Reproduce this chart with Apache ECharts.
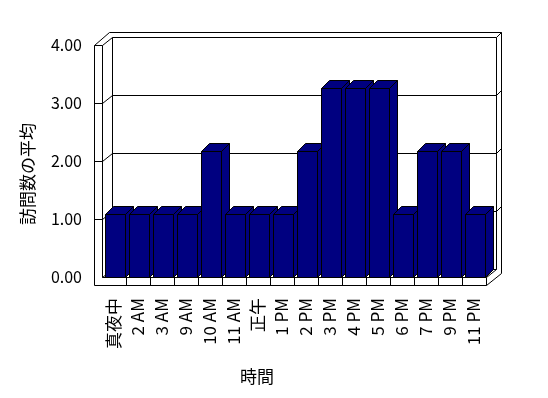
<!DOCTYPE html>
<html>
<head>
<meta charset="utf-8">
<script src="https://cdn.jsdelivr.net/npm/echarts@6/dist/echarts.min.js"></script>
<style>
html,body{margin:0;padding:0;background:#fff;}
#c{width:548px;height:398px;}
</style>
</head>
<body>
<div id="c"></div>
<script>
const categories = ['真夜中','2 AM','3 AM','9 AM','10 AM','11 AM','正午','1 PM','2 PM','3 PM','4 PM','5 PM','6 PM','7 PM','9 PM','11 PM'];
const visits = [1.09,1.09,1.09,1.09,2.17,1.09,1.09,1.09,2.17,3.26,3.26,3.26,1.09,2.17,2.17,1.09];
const yTickValues = [1,2,3];
const yName = '訪問数の平均';
const xName = '時間';

const FONT = '"Noto Sans CJK JP", "Liberation Sans", sans-serif';
const BAR = '#000080';
const N = categories.length;
const c = v => Math.round(v) + 0.5;
const line = pts => ({type:'polyline', shape:{points: pts.map(p=>[c(p[0]), c(p[1])])}, style:{stroke:'#000', lineWidth:1, fill:null}});

function renderFrame(params, api) {
  const p0 = api.coord([0, 0]);
  const p4 = api.coord([0, 4]);
  const bw = api.size([1, 0])[0];
  const pl = api.coord([N - 1, 0]);
  const xl = p0[0] - bw / 2, xr = pl[0] + bw / 2;
  const yb = p0[1], yt = p4[1];
  const DX = 10, DY = 8, WT = 8, FT = 8;
  const ch = [];
  yTickValues.forEach(v => {
    const y = api.coord([0, v])[1];
    ch.push(line([[xl - WT, y], [xl, y], [xl + DX, y - DY], [xr + DX, y - DY], [xr + DX + 5, y - DY - 5]]));
  });
  ch.push(line([[xl + DX, yb - DY], [xr + DX, yb - DY]]));
  ch.push(line([[xl - WT, yb + FT], [xl - WT, yt], [xl, yt], [xl, yb]]));
  ch.push(line([[xl - WT, yt], [xl + DX - 3, yt - DY - 5]]));
  ch.push(line([[xl, yt], [xl + DX, yt - DY], [xl + DX, yb - DY]]));
  ch.push(line([[xl, yb], [xl + DX, yb - DY]]));
  ch.push(line([[xl + DX, yt - DY], [xr + DX, yt - DY], [xr + DX, yb - DY]]));
  ch.push(line([[xl + DX - 3, yt - DY - 5], [xr + DX + 5, yt - DY - 5], [xr + DX + 5, yb - 4]]));
  ch.push(line([[xr + DX, yt - DY], [xr + DX + 5, yt - DY - 5]]));
  ch.push(line([[xl - WT, yb + FT], [xr, yb + FT], [xr, yb], [xl, yb]]));
  ch.push(line([[xr, yb], [xr + DX, yb - DY]]));
  ch.push(line([[xr, yb + FT], [xr + DX + 5, yb - 4]]));
  for (let i = 1; i < N; i++) {
    const x = xl + i * bw;
    ch.push(line([[x, yb], [x, yb + FT]]));
  }
  return {type:'group', children: ch};
}

function renderBar(params, api) {
  const top = api.coord([api.value(0), api.value(1)]);
  const base = api.coord([api.value(0), 0]);
  const bw = api.size([1, 0])[0];
  const w = Math.round(bw * 20 / 24);
  const L = Math.round(top[0] - bw * 9 / 24) + 0.5;
  const T = Math.round(top[1]) + 0.5;
  const B = Math.round(base[1]) + 0.5;
  const D = 8;
  const st = {fill: BAR, stroke: '#000', lineWidth: 1};
  return {type:'group', children: [
    {type:'polygon', shape:{points:[[L + w, T], [L + w + D, T - D], [L + w + D, B - D], [L + w, B]]}, style: st},
    {type:'polygon', shape:{points:[[L, T], [L + D, T - D], [L + w + D, T - D], [L + w, T]]}, style: st},
    {type:'rect', shape:{x: L, y: T, width: w, height: B - T}, style: st}
  ]};
}

const chart = echarts.init(document.getElementById('c'), null, {renderer:'canvas'});
chart.setOption({
  animation: false,
  backgroundColor: '#fff',
  grid: {left: 102, right: 62, top: 45, bottom: 121},
  xAxis: {
    type: 'category', data: categories, boundaryGap: true,
    axisLine: {show: false}, axisTick: {show: false}, splitLine: {show: false},
    axisLabel: {rotate: 90, interval: 0, margin: 21, fontSize: 17, color: '#000', fontFamily: FONT}
  },
  yAxis: {
    type: 'value', min: 0, max: 4, interval: 1,
    axisLine: {show: false}, axisTick: {show: false}, splitLine: {show: false},
    axisLabel: {margin: 20, fontSize: 16, color: '#000', fontFamily: FONT, formatter: v => v.toFixed(2)}
  },
  graphic: [
    {type:'text', x: 28, y: 174, rotation: Math.PI / 2, style:{text: yName, font: '17px ' + FONT, fill:'#000', align:'center', verticalAlign:'middle'}},
    {type:'text', x: 257, y: 377, style:{text: xName, font: '17px ' + FONT, fill:'#000', align:'center', verticalAlign:'middle'}}
  ],
  series: [
    {type:'custom', z: 1, renderItem: renderFrame, data: [[0, 0]], silent: true},
    {type:'custom', z: 2, renderItem: renderBar, data: visits.map((v, i) => [i, v])}
  ]
});
</script>
</body>
</html>
